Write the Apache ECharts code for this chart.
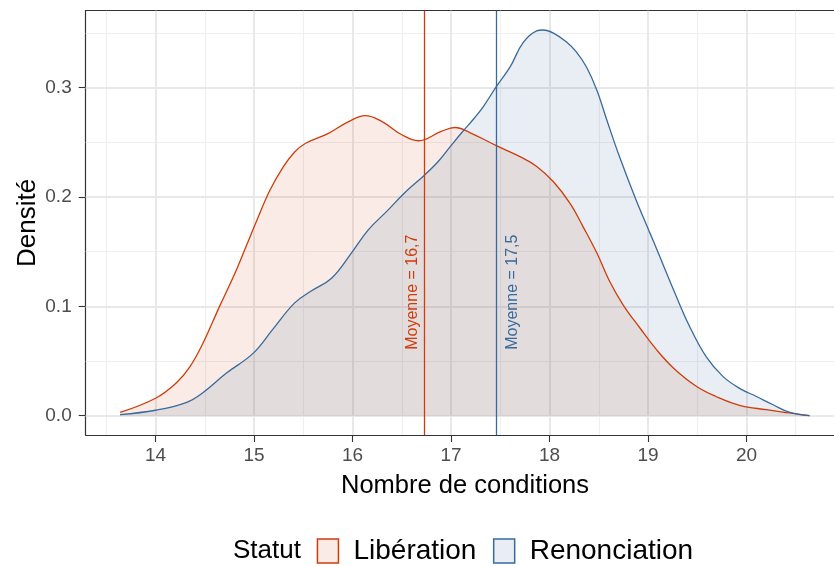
<!DOCTYPE html>
<html>
<head>
<meta charset="utf-8">
<script src="https://cdn.jsdelivr.net/npm/echarts@6/dist/echarts.min.js"></script>
<style>
  html, body { margin: 0; padding: 0; background: #ffffff; }
  #chart { width: 834px; height: 567px; }
</style>
</head>
<body>
<div id="chart"></div>
<script>
// Density of the number of conditions, by status, with group means.
const statusNames = ['Libération', 'Renonciation'];

const liberationX = [13.64, 14.00, 14.21, 14.35, 14.48, 14.65, 14.79, 14.92, 15.03, 15.16,
  15.30, 15.41, 15.52, 15.75, 15.96, 16.13, 16.30, 16.50, 16.67, 16.90,
  17.04, 17.19, 17.46, 17.70, 17.87, 18.04, 18.21, 18.34, 18.48, 18.61,
  18.75, 18.92, 19.09, 19.26, 19.49, 19.69, 19.93, 20.20, 20.44, 20.64];
const liberationY = [0.003, 0.016, 0.030, 0.045, 0.066, 0.100, 0.127, 0.155, 0.179, 0.206,
  0.228, 0.241, 0.249, 0.258, 0.269, 0.2745, 0.269, 0.257, 0.2515, 0.260,
  0.2636, 0.259, 0.247, 0.237, 0.228, 0.214, 0.194, 0.173, 0.149, 0.123,
  0.101, 0.080, 0.060, 0.0435, 0.027, 0.0176, 0.0095, 0.0055, 0.0025, 0.000];

const renonciationX = [13.64, 14.00, 14.31, 14.48, 14.72, 14.99, 15.19, 15.41, 15.58, 15.79,
  15.99, 16.16, 16.36, 16.53, 16.73, 16.87, 17.00, 17.11, 17.24, 17.33,
  17.46, 17.60, 17.73, 17.87, 17.935, 18.04, 18.17, 18.27, 18.375, 18.48,
  18.58, 18.71, 18.88, 19.02, 19.09, 19.26, 19.42, 19.59, 19.76, 19.93,
  20.10, 20.27, 20.44, 20.64];
const renonciationY = [0.001, 0.005, 0.012, 0.021, 0.039, 0.057, 0.079, 0.103, 0.114, 0.126,
  0.149, 0.170, 0.188, 0.204, 0.220, 0.2325, 0.247, 0.259, 0.2725, 0.283,
  0.301, 0.319, 0.341, 0.352, 0.3528, 0.350, 0.342, 0.333, 0.319, 0.298,
  0.271, 0.237, 0.197, 0.167, 0.152, 0.115, 0.082, 0.054, 0.036, 0.025,
  0.0176, 0.010, 0.003, 0.000];

const groupMeans = [16.73, 17.46];

const xTicks = [14, 15, 16, 17, 18, 19, 20];
const xMinorTicks = [13.5, 14.5, 15.5, 16.5, 17.5, 18.5, 19.5, 20.5];
const yTicks = [0, 0.1, 0.2, 0.3];
const yMinorTicks = [0.05, 0.15, 0.25, 0.35];

// Styling
const FONT = '"Liberation Sans", Arial, Helvetica, sans-serif';
const lineColors = ['#CF3C0A', '#386A9A'];
const keyFills = ['#FAEBE6', '#E8EEF3'];
const fillOpacity = [0.1, 0.115];
const xRange = [13.291, 20.993];
const yRange = [-0.01764, 0.37044];
const meanLabelY = 0.113;
const meanLabelShift = [-12, 16];

const zip = (xs, ys) => xs.map((x, i) => [x, ys[i]]);
const seriesData = [zip(liberationX, liberationY), zip(renonciationX, renonciationY)];

const minorStyle = { color: '#EFEFEF', width: 1.2, type: 'solid' };
const majorStyle = { color: '#E8E8E8', width: 2, type: 'solid' };
const gridLines = [].concat(
  xMinorTicks.map(v => ({ xAxis: v, lineStyle: minorStyle })),
  yMinorTicks.map(v => ({ yAxis: v, lineStyle: minorStyle })),
  xTicks.map(v => ({ xAxis: v, lineStyle: majorStyle })),
  yTicks.map(v => ({ yAxis: v, lineStyle: majorStyle }))
);

const chart = echarts.init(document.getElementById('chart'), null, { renderer: 'canvas' });

const frameLine = { show: true, onZero: false, lineStyle: { color: '#333333', width: 1.2 } };

const option = {
  animation: false,
  backgroundColor: '#ffffff',
  grid: {
    left: 85.7, top: 10.7, width: 758.6, height: 424.3,
    outerBoundsMode: 'none', containLabel: false, show: false
  },
  xAxis: [{
    type: 'value', min: xRange[0], max: xRange[1], position: 'bottom',
    axisLine: frameLine,
    axisTick: { show: true, customValues: xTicks, length: 7, lineStyle: { color: '#333333', width: 1.1 } },
    axisLabel: { customValues: xTicks, margin: 11, color: '#4D4D4D', fontSize: 19, fontFamily: FONT,
      formatter: v => String(v) },
    splitLine: { show: false },
    name: 'Nombre de conditions', nameLocation: 'middle', nameGap: 38,
    nameTextStyle: { color: '#000000', fontSize: 25.5, fontFamily: FONT }
  }, {
    // top edge of the panel frame
    type: 'value', min: xRange[0], max: xRange[1], position: 'top',
    axisLine: frameLine, axisTick: { show: false }, axisLabel: { show: false }, splitLine: { show: false }
  }],
  yAxis: {
    type: 'value', min: yRange[0], max: yRange[1],
    axisLine: frameLine,
    axisTick: { show: true, customValues: yTicks, length: 7, lineStyle: { color: '#333333', width: 1.1 } },
    axisLabel: { customValues: yTicks, margin: 14, color: '#4D4D4D', fontSize: 19, fontFamily: FONT,
      formatter: v => v.toFixed(1) },
    splitLine: { show: false },
    name: 'Densité', nameLocation: 'middle', nameGap: 45, nameMoveOverlap: false,
    nameTextStyle: { color: '#000000', fontSize: 26, fontFamily: FONT }
  },
  legend: {
    left: 316.7, top: 537, padding: 0, itemWidth: 21, itemHeight: 24, itemGap: 16.5,
    selectedMode: false,
    textStyle: { color: '#000000', fontSize: 28, fontFamily: FONT, padding: [0, 0, 0, 10] },
    data: statusNames.map((n, i) => ({
      name: n, icon: 'rect',
      itemStyle: { color: keyFills[i], borderColor: lineColors[i], borderWidth: 1.5 }
    }))
  },
  series: [
    {
      type: 'line', name: '__grid', data: [], silent: true,
      markLine: { silent: true, z: 1, symbol: ['none', 'none'], label: { show: false },
        emphasis: { disabled: true }, animation: false, data: gridLines }
    }
  ].concat(statusNames.map((n, i) => ({
    type: 'line', name: n, data: seriesData[i], z: 2,
    showSymbol: false, symbol: 'none', smooth: 0.4, silent: true,
    lineStyle: { color: lineColors[i], width: 1.3 },
    itemStyle: { color: lineColors[i] },
    areaStyle: { color: lineColors[i], opacity: fillOpacity[i] },
    markLine: {
      silent: true, z: 5, symbol: ['none', 'none'], label: { show: false },
      emphasis: { disabled: true }, animation: false,
      data: [{ xAxis: groupMeans[i], lineStyle: { color: lineColors[i], width: 1.3, type: 'solid' } }]
    }
  })))
};

chart.setOption(option);

// Legend title and the vertical mean annotations
const graphics = [{
  type: 'text', left: 233, top: 550 - 12, silent: true,
  style: { text: 'Statut', fill: '#000000', font: `26px ${FONT}` }
}];
groupMeans.forEach((m, i) => {
  const p = chart.convertToPixel({ gridIndex: 0 }, [m, meanLabelY]);
  graphics.push({
    type: 'text', x: p[0] + meanLabelShift[i], y: p[1], rotation: Math.PI / 2, silent: true, z: 10,
    style: {
      text: 'Moyenne = ' + m.toFixed(1).replace('.', ','),
      fill: lineColors[i], font: `16px ${FONT}`,
      align: 'center', verticalAlign: 'middle', textAlign: 'center', textVerticalAlign: 'middle'
    }
  });
});
chart.setOption({ graphic: graphics });
</script>
</body>
</html>
